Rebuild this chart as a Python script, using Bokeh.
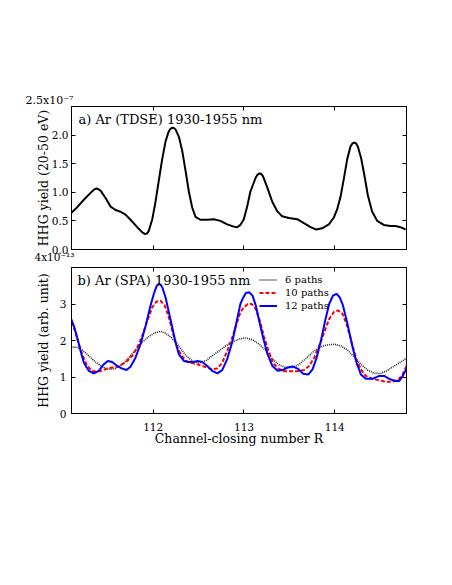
from bokeh.plotting import figure
from bokeh.models import LinearAxis, Label, Range1d, FixedTicker, Title
from bokeh.layouts import column
from bokeh.embed import file_html
from bokeh.resources import INLINE

FONT = "DejaVu Serif"

# ---------------- data ----------------
X_START, X_END = 111.1, 114.79
R_TICKS = [112, 113, 114]

# panel a: TDSE yield, units of 1e-7
tdse_r = [111.09, 111.163, 111.236, 111.31, 111.35, 111.376, 111.40, 111.42, 111.475, 111.53,
          111.585, 111.64, 111.695, 111.75, 111.824, 111.88, 111.90, 111.916, 111.935, 111.952,
          111.99, 112.026, 112.062, 112.099, 112.136, 112.17, 112.19, 112.21, 112.228, 112.246,
          112.283, 112.32, 112.356, 112.393, 112.43, 112.466, 112.52, 112.595, 112.668, 112.74,
          112.815, 112.888, 112.925, 112.96, 112.998, 113.035, 113.07, 113.127, 113.15, 113.17,
          113.19, 113.21, 113.255, 113.31, 113.366, 113.42, 113.494, 113.586, 113.66, 113.733,
          113.795, 113.86, 113.935, 113.99, 114.026, 114.063, 114.10, 114.137, 114.173, 114.195,
          114.217, 114.237, 114.254, 114.29, 114.327, 114.364, 114.41, 114.467, 114.54, 114.613,
          114.669, 114.724, 114.78]
tdse_y = [0.63, 0.74, 0.87, 0.99, 1.05, 1.066, 1.05, 1.03, 0.90, 0.75,
          0.69, 0.66, 0.61, 0.52, 0.39, 0.30, 0.28, 0.27, 0.285, 0.33,
          0.53, 0.84, 1.21, 1.58, 1.89, 2.06, 2.11, 2.13, 2.125, 2.10,
          1.97, 1.72, 1.38, 1.01, 0.73, 0.57, 0.52, 0.52, 0.53, 0.50,
          0.44, 0.40, 0.39, 0.43, 0.53, 0.75, 1.01, 1.25, 1.31, 1.33,
          1.32, 1.28, 1.09, 0.84, 0.67, 0.58, 0.55, 0.53, 0.46, 0.39,
          0.35, 0.37, 0.44, 0.56, 0.70, 0.92, 1.24, 1.58, 1.80, 1.855,
          1.87, 1.85, 1.80, 1.60, 1.29, 0.95, 0.67, 0.50, 0.43, 0.41,
          0.41, 0.39, 0.35]

# panel b: SPA yields, units of 1e-13
p12_r = [111.09, 111.126, 111.163, 111.2, 111.236, 111.29, 111.346, 111.40, 111.457, 111.50,
         111.548, 111.604, 111.66, 111.706, 111.75, 111.805, 111.86, 111.916, 111.97, 112.007,
         112.037, 112.062, 112.08, 112.10, 112.136, 112.173, 112.21, 112.246, 112.283, 112.338,
         112.393, 112.448, 112.49, 112.54, 112.595, 112.65, 112.705, 112.76, 112.815, 112.87,
         112.925, 112.96, 112.984, 113.02, 113.057, 113.094, 113.13, 113.167, 113.21, 113.26,
         113.314, 113.37, 113.425, 113.48, 113.535, 113.59, 113.652, 113.71, 113.755, 113.80,
         113.847, 113.894, 113.938, 113.98, 114.018, 114.055, 114.09, 114.14, 114.188, 114.24,
         114.287, 114.342, 114.416, 114.49, 114.544, 114.60, 114.665, 114.71, 114.75, 114.79]
p12_y = [2.63, 2.40, 2.08, 1.71, 1.39, 1.17, 1.10, 1.17, 1.35, 1.44,
         1.41, 1.30, 1.23, 1.19, 1.28, 1.53, 1.90, 2.40, 2.95, 3.28,
         3.49, 3.55, 3.53, 3.46, 3.18, 2.77, 2.36, 1.95, 1.62, 1.44,
         1.41, 1.41, 1.44, 1.41, 1.30, 1.17, 1.10, 1.19, 1.49, 1.95,
         2.59, 3.00, 3.14, 3.30, 3.32, 3.23, 2.96, 2.54, 2.08, 1.62,
         1.30, 1.17, 1.19, 1.26, 1.29, 1.23, 1.09, 1.07, 1.21, 1.53,
         1.99, 2.54, 3.00, 3.23, 3.28, 3.18, 2.96, 2.45, 1.90, 1.39,
         1.07, 0.95, 0.95, 1.03, 1.03, 0.95, 0.89, 0.89, 1.03, 1.23]

p10_r = [111.09, 111.126, 111.163, 111.218, 111.273, 111.33, 111.383, 111.438, 111.493, 111.548,
         111.604, 111.66, 111.714, 111.77, 111.824, 111.88, 111.934, 111.99, 112.037, 112.08,
         112.125, 112.173, 112.22, 112.264, 112.32, 112.374, 112.43, 112.485, 112.54, 112.595,
         112.65, 112.705, 112.76, 112.815, 112.87, 112.925, 112.96, 112.99, 113.04, 113.086,
         113.13, 113.175, 113.22, 113.27, 113.32, 113.38, 113.44, 113.516, 113.59, 113.663,
         113.718, 113.773, 113.828, 113.883, 113.938, 113.993, 114.037, 114.085, 114.13, 114.177,
         114.232, 114.287, 114.342, 114.416, 114.49, 114.563, 114.636, 114.702, 114.746, 114.79]
p10_y = [2.50, 2.36, 2.04, 1.62, 1.30, 1.17, 1.14, 1.18, 1.23, 1.26,
         1.28, 1.35, 1.44, 1.58, 1.81, 2.13, 2.54, 2.91, 3.07, 3.09,
         2.97, 2.63, 2.17, 1.81, 1.56, 1.42, 1.38, 1.35, 1.30, 1.26,
         1.21, 1.23, 1.39, 1.71, 2.08, 2.50, 2.77, 2.88, 3.00, 3.00,
         2.86, 2.54, 2.11, 1.72, 1.39, 1.23, 1.16, 1.16, 1.16, 1.19,
         1.30, 1.53, 1.85, 2.22, 2.59, 2.79, 2.82, 2.73, 2.45, 2.04,
         1.53, 1.21, 1.03, 0.95, 0.91, 0.87, 0.87, 0.93, 1.07, 1.30]

p6_r = [111.09, 111.163, 111.218, 111.29, 111.365, 111.438, 111.51, 111.585, 111.66, 111.732,
        111.805, 111.88, 111.952, 112.026, 112.08, 112.136, 112.21, 112.283, 112.356, 112.43,
        112.503, 112.576, 112.65, 112.723, 112.797, 112.87, 112.947, 113.02, 113.094, 113.167,
        113.24, 113.314, 113.388, 113.46, 113.535, 113.608, 113.68, 113.755, 113.828, 113.90,
        113.993, 114.066, 114.14, 114.213, 114.287, 114.36, 114.434, 114.508, 114.58, 114.654,
        114.727, 114.80]
p6_y = [1.83, 1.81, 1.74, 1.58, 1.41, 1.28, 1.21, 1.23, 1.35, 1.53,
        1.74, 1.95, 2.11, 2.22, 2.25, 2.20, 2.06, 1.84, 1.60, 1.44,
        1.39, 1.44, 1.58, 1.71, 1.85, 1.96, 2.04, 2.07, 2.02, 1.90,
        1.72, 1.49, 1.33, 1.26, 1.26, 1.35, 1.50, 1.67, 1.81, 1.87,
        1.90, 1.85, 1.74, 1.55, 1.35, 1.19, 1.10, 1.10, 1.18, 1.30,
        1.41, 1.53]

TOP_Y_TICKS = [0.0, 0.5, 1.0, 1.5, 2.0, 2.5]
TOP_Y_LABELS = ["0.0", "0.5", "1.0", "1.5", "2.0", ""]
BOT_Y_TICKS = [0, 1, 2, 3, 4]
BOT_Y_LABELS = ["0", "1", "2", "3", ""]
TOP_EXP = "2.5x10\u207b\u2077"
BOT_EXP = "4x10\u207b\u00b9\u00b3"


def style_axis(ax, ticks, labels=None, show=True, size="10.5px"):
    ax.ticker = FixedTicker(ticks=ticks)
    ax.major_tick_in = 4
    ax.major_tick_out = 0
    ax.minor_tick_in = 0
    ax.minor_tick_out = 0
    ax.axis_line_color = "black"
    ax.major_tick_line_color = "black"
    ax.major_label_text_font = FONT
    ax.major_label_text_color = "black"
    ax.axis_label_text_font = FONT
    ax.axis_label_text_font_style = "normal"
    ax.axis_label_text_color = "black"
    if show:
        ax.major_label_text_font_size = size
        if labels is not None:
            ax.major_label_overrides = {t: l for t, l in zip(ticks, labels)}
    else:
        ax.major_label_text_font_size = "0px"
        ax.major_label_standoff = 0


def mirror(p, ticks, side):
    ax = LinearAxis()
    style_axis(ax, ticks, show=False)
    p.add_layout(ax, side)


def base_fig(yr, h, top, bottom):
    p = figure(width=436, height=h, x_range=Range1d(X_START, X_END), y_range=Range1d(*yr),
               output_backend="svg", toolbar_location=None,
               min_border_left=71, min_border_right=30, min_border_top=top, min_border_bottom=bottom)
    p.grid.visible = False
    p.outline_line_color = "black"
    p.background_fill_color = "white"
    p.border_fill_color = "white"
    return p


# ---------------- panel a ----------------
p1 = base_fig((0, 2.5), 266, 106, 15)
style_axis(p1.xaxis[0], R_TICKS, show=False)
style_axis(p1.yaxis[0], TOP_Y_TICKS, TOP_Y_LABELS)
p1.yaxis[0].major_label_standoff = 3
p1.yaxis[0].axis_label = "HHG yield (20-50 eV)"
p1.yaxis[0].axis_label_text_font_size = "12.5px"
p1.yaxis[0].axis_label_standoff = -2
mirror(p1, R_TICKS, "above")
mirror(p1, TOP_Y_TICKS, "right")
p1.add_layout(Title(text=TOP_EXP, align="left", offset=-46, standoff=0, text_font=FONT,
                    text_font_size="11px", text_font_style="normal", text_color="black"), "above")
# exponent of panel b's y axis sits just above panel b's frame, i.e. in panel a's lower margin
p1.add_layout(Title(text=BOT_EXP, align="left", offset=-37, standoff=3, vertical_align="top", text_font=FONT,
                    text_font_size="10.5px", text_font_style="normal", text_color="black"), "below")

p1.line(tdse_r, tdse_y, line_color="black", line_width=2)

p1.add_layout(Label(x=X_START, y=TOP_Y_TICKS[-1], x_offset=7, y_offset=-13, text="a) Ar (TDSE) 1930-1955 nm",
                    text_font=FONT, text_font_size="13px", text_baseline="middle", text_color="black"))

# ---------------- panel b ----------------
p2 = base_fig((0, 4), 192, 1, 45)
style_axis(p2.xaxis[0], R_TICKS)
p2.xaxis[0].major_label_standoff = 9
p2.xaxis[0].axis_label = "Channel-closing number R"
p2.xaxis[0].axis_label_text_font_size = "12.5px"
p2.xaxis[0].axis_label_standoff = -3
style_axis(p2.yaxis[0], BOT_Y_TICKS, BOT_Y_LABELS)
p2.yaxis[0].major_label_standoff = 5
p2.yaxis[0].axis_label = "HHG yield (arb. unit)"
p2.yaxis[0].axis_label_text_font_size = "12.5px"
p2.yaxis[0].axis_label_standoff = 6
mirror(p2, R_TICKS, "above")
mirror(p2, BOT_Y_TICKS, "right")

p2.line(p6_r, p6_y, line_color="#222222", line_width=1.6, line_dash="1 1", legend_label="6 paths")
p2.line(p10_r, p10_y, line_color="#ff0000", line_width=2, line_dash="4 2", legend_label="10 paths")
p2.line(p12_r, p12_y, line_color="#0000ff", line_width=2, legend_label="12 paths")

lg = p2.legend[0]
lg.location = (188, 101)
lg.padding = 0
lg.margin = 0
lg.spacing = 0
lg.border_line_color = None
lg.background_fill_alpha = 0
lg.glyph_width = 18
lg.glyph_height = 13
lg.label_height = 13
lg.label_standoff = 8
lg.label_text_font = FONT
lg.label_text_font_size = "10px"
lg.label_text_color = "black"

p2.add_layout(Label(x=X_START, y=BOT_Y_TICKS[-1], x_offset=6, y_offset=-12.5, text="b) Ar (SPA) 1930-1955 nm",
                    text_font=FONT, text_font_size="13px", text_baseline="middle", text_color="black"))

layout = column(p1, p2, spacing=0)
open("out.html", "w").write(file_html(layout, INLINE))
